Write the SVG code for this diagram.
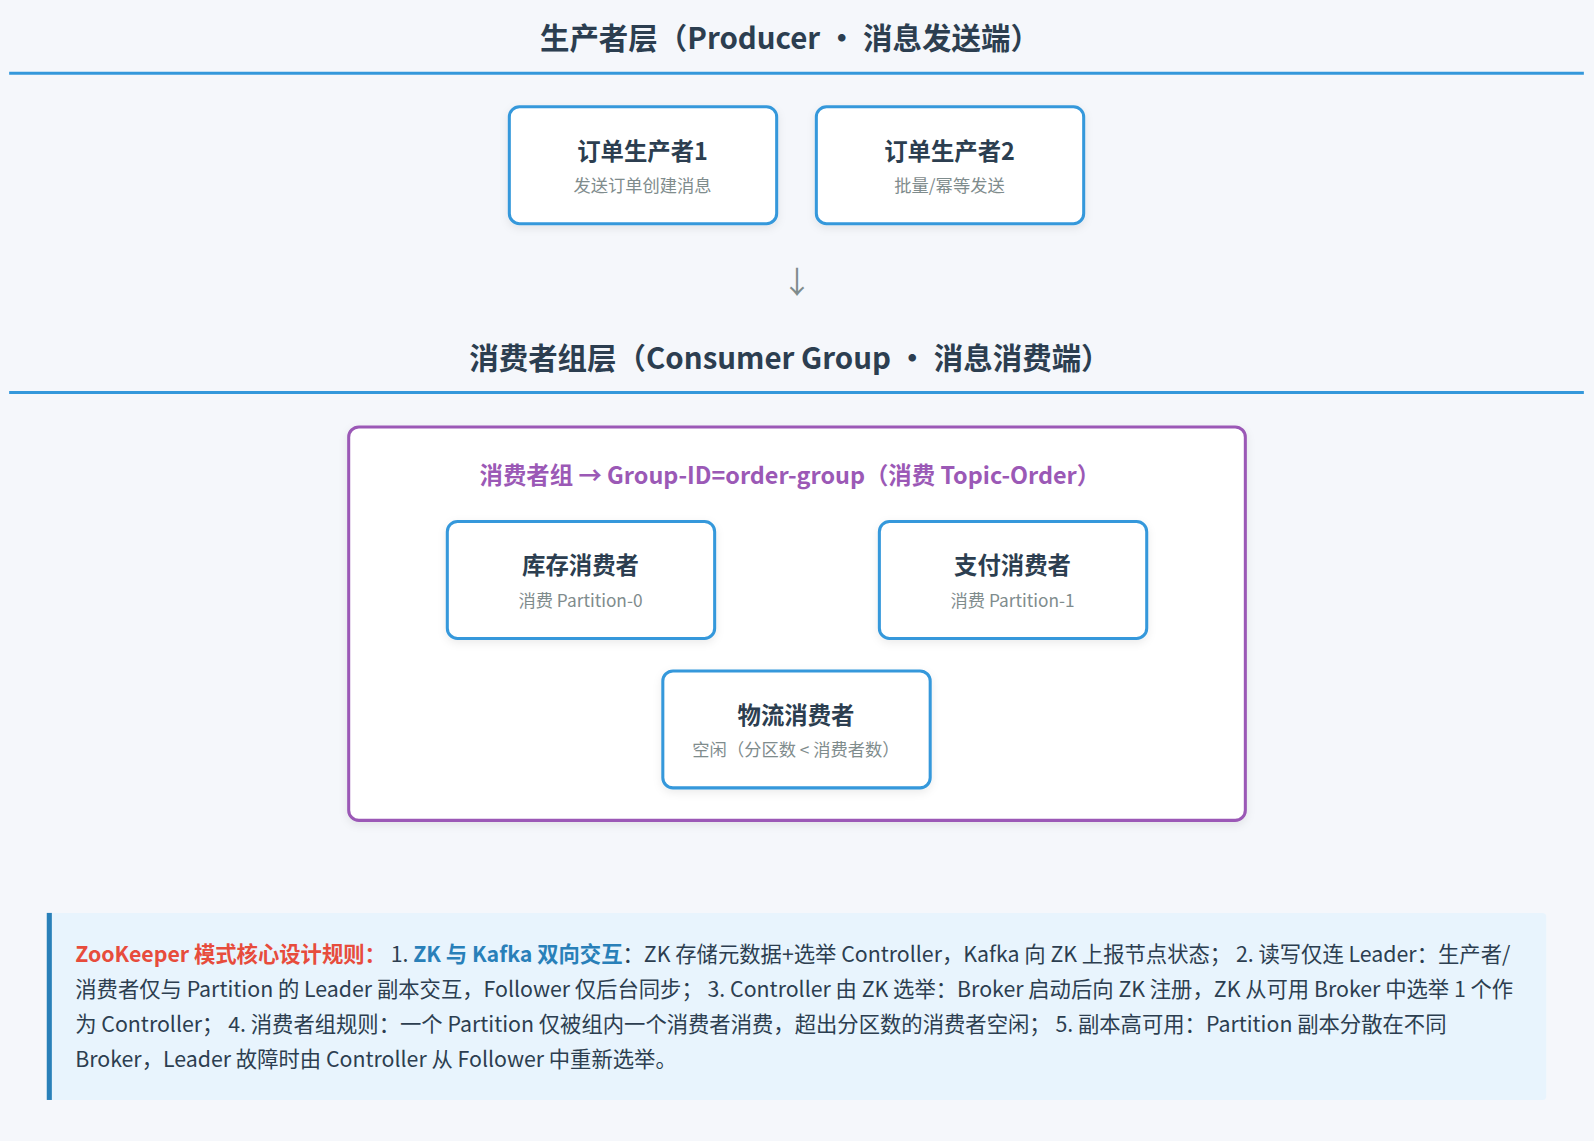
<svg xmlns="http://www.w3.org/2000/svg" width="1594" height="1141" viewBox="0 0 1594 1141">
<style>
text{font-family:"Noto Sans CJK SC","Noto Sans",sans-serif}
.h{font-size:29px;font-weight:bold;fill:#2c3e50;text-anchor:middle}
.sep{stroke:#3498db;stroke-width:3}
.node{fill:#fff;stroke:#3498db;stroke-width:3}
.t{font-size:23px;font-weight:bold;fill:#2c3e50;text-anchor:middle}
.s{font-size:17px;fill:#7f8c8d;text-anchor:middle}
.n{font-size:21px;fill:#2c3e50}
</style>
<defs><filter id="sh" x="-10%" y="-10%" width="120%" height="130%"><feDropShadow dx="0" dy="3" stdDeviation="4" flood-color="#000" flood-opacity="0.08"/></filter></defs>
<rect width="1594" height="1141" fill="#f5f7fb"/>
<g transform="scale(1.0166)">
<text class="h" x="777" y="48">生产者层（Producer • 消息发送端）</text>
<line class="sep" x1="9" y1="72" x2="1558" y2="72"/>
<g id="p1"><rect class="node" x="501" y="105" width="263" height="115" rx="10" filter="url(#sh)"/><text class="t" x="632" y="157">订单生产者1</text><text class="s" x="632" y="189">发送订单创建消息</text></g>
<g id="p2"><rect class="node" x="803" y="105" width="263" height="115" rx="10" filter="url(#sh)"/><text class="t" x="934" y="157">订单生产者2</text><text class="s" x="934" y="189">批量/幂等发送</text></g>
<g id="connectors"><text x="784" y="288" font-size="30" fill="#7f8c8d" text-anchor="middle">↓</text></g>
<text class="h" x="777" y="363">消费者组层（Consumer Group • 消息消费端）</text>
<line class="sep" x1="9" y1="386" x2="1558" y2="386"/>
<g id="group"><rect x="343" y="420" width="882" height="387" rx="10" fill="#fff" stroke="#9b59b6" stroke-width="3" filter="url(#sh)"/>
<text x="777" y="476" font-size="23" font-weight="bold" fill="#9b59b6" text-anchor="middle">消费者组 → Group-ID=order-group（消费 Topic-Order）</text></g>
<g id="c1"><rect class="node" x="440" y="513" width="263" height="115" rx="10" filter="url(#sh)"/><text class="t" x="571" y="565">库存消费者</text><text class="s" x="571" y="597">消费 Partition-0</text></g>
<g id="c2"><rect class="node" x="865" y="513" width="263" height="115" rx="10" filter="url(#sh)"/><text class="t" x="996" y="565">支付消费者</text><text class="s" x="996" y="597">消费 Partition-1</text></g>
<g id="c3"><rect class="node" x="652" y="660" width="263" height="115" rx="10" filter="url(#sh)"/><text class="t" x="783" y="712">物流消费者</text><text class="s" x="783" y="744">空闲（分区数 &lt; 消费者数）</text></g>
<g id="note"><rect x="46" y="898" width="1475" height="184" rx="4" fill="#e8f4fd"/><rect x="46" y="898" width="5" height="184" fill="#2980b9"/>
<text class="n" x="74" y="946"><tspan fill="#e74c3c" font-weight="bold">ZooKeeper 模式核心设计规则：</tspan> 1. <tspan fill="#2980b9" font-weight="bold">ZK 与 Kafka 双向交互</tspan>：ZK 存储元数据+选举 Controller，Kafka 向 ZK 上报节点状态； 2. 读写仅连 Leader：生产者/</text>
<text class="n" x="74" y="981">消费者仅与 Partition 的 Leader 副本交互，Follower 仅后台同步； 3. Controller 由 ZK 选举：Broker 启动后向 ZK 注册，ZK 从可用 Broker 中选举 1 个作</text>
<text class="n" x="74" y="1015">为 Controller； 4. 消费者组规则：一个 Partition 仅被组内一个消费者消费，超出分区数的消费者空闲； 5. 副本高可用：Partition 副本分散在不同</text>
<text class="n" x="74" y="1050">Broker，Leader 故障时由 Controller 从 Follower 中重新选举。</text></g>
</g>
</svg>
